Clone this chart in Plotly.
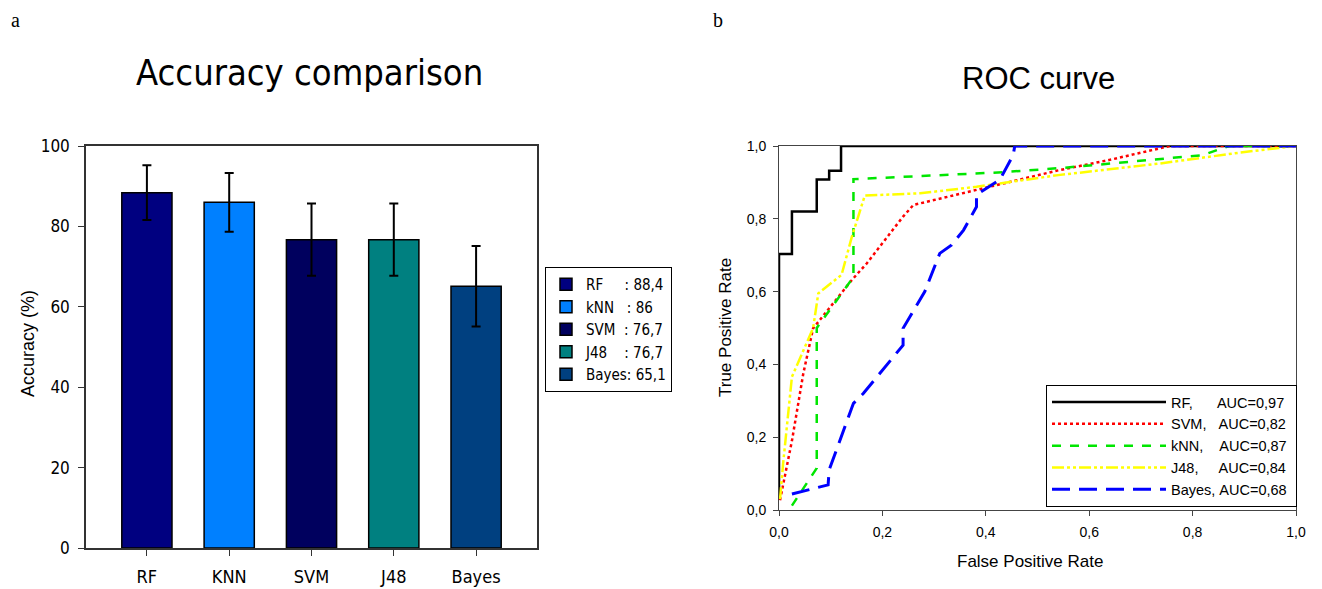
import plotly.graph_objects as go

# ---------------- data ----------------
categories = ["RF", "KNN", "SVM", "J48", "Bayes"]
legend_names = ["RF", "kNN", "SVM", "J48", "Bayes"]
accuracy = [88.4, 86, 76.7, 76.7, 65.1]
acc_err = [6.8, 7.3, 9.0, 9.0, 10.0]
bar_colors = ["#000080", "#0080FF", "#00005E", "#008080", "#004080"]
legend_pad = [5, 3, 2, 4, 0]

rf_fpr = [0, 0, 0.025, 0.025, 0.073, 0.073, 0.097, 0.097, 0.12, 0.12, 1.0]
rf_tpr = [0.03, 0.703, 0.703, 0.82, 0.82, 0.908, 0.908, 0.932, 0.932, 1.0, 1.0]

svm_fpr = [0.002, 0.025, 0.047, 0.066, 0.141, 0.17, 0.205, 0.24, 0.26, 0.382, 0.54, 0.64, 0.756, 1.0]
svm_tpr = [0.027, 0.19, 0.375, 0.499, 0.632, 0.678, 0.742, 0.806, 0.838, 0.879, 0.933, 0.962, 1.0, 1.0]

knn_fpr = [0.025, 0.073, 0.073, 0.141, 0.144, 0.144, 0.433, 0.55, 0.82, 0.87, 1.0]
knn_tpr = [0.012, 0.115, 0.50, 0.632, 0.64, 0.909, 0.928, 0.94, 0.975, 1.0, 1.0]

j48_fpr = [0.002, 0.008, 0.025, 0.066, 0.076, 0.121, 0.141, 0.166, 0.273, 0.382, 0.54, 0.737, 0.892, 1.0]
j48_tpr = [0.03, 0.128, 0.366, 0.50, 0.595, 0.646, 0.751, 0.864, 0.87, 0.888, 0.92, 0.952, 0.982, 1.0]

bayes_fpr = [0.025, 0.095, 0.097, 0.144, 0.163, 0.195, 0.24, 0.24, 0.282, 0.311, 0.334, 0.357,
             0.382, 0.382, 0.427, 0.453, 0.456, 1.0]
bayes_tpr = [0.044, 0.069, 0.11, 0.293, 0.32, 0.375, 0.453, 0.499, 0.60, 0.705, 0.728, 0.769,
             0.833, 0.866, 0.907, 0.975, 1.0, 1.0]

roc_names = ["RF,", "SVM,", "kNN,", "J48,", "Bayes,"]
roc_auc = ["0,97", "0,82", "0,87", "0,84", "0,68"]
roc_pad = [6, 3, 4, 5, 1]

NARROW = "DejaVu Sans Condensed, Liberation Sans Narrow, Arial Narrow, sans-serif"
SANS = "Liberation Sans, Arial, sans-serif"
SERIF = "Liberation Serif, Times New Roman, serif"
NB = "\u00a0"

fig = go.Figure()

# ---------------- bar chart ----------------
for i, cat in enumerate(categories):
    label = f"{legend_names[i]}{NB * legend_pad[i]}:{NB}{str(accuracy[i]).replace('.', ',')}"
    fig.add_trace(go.Bar(
        x=[cat], y=[accuracy[i]], name=label,
        marker=dict(color=bar_colors[i], line=dict(color="black", width=1.5)),
        width=0.61,
        error_y=dict(type="data", array=[acc_err[i]], color="black", thickness=2, width=4.5),
        xaxis="x", yaxis="y", legend="legend",
    ))

# ---------------- ROC ----------------
roc_data = [(rf_fpr, rf_tpr), (svm_fpr, svm_tpr), (knn_fpr, knn_tpr), (j48_fpr, j48_tpr), (bayes_fpr, bayes_tpr)]
roc_lines = [
    dict(color="black", width=2.5, dash="solid"),
    dict(color="#FF0000", width=2.5, dash="dot"),
    dict(color="#00E600", width=2.5, dash="dash"),
    dict(color="#FFFF00", width=2.5, dash="12px,3px,3px,3px,3px,3px"),
    dict(color="#0000FF", width=3, dash="18px,9px"),
]
for i, (fx, ty) in enumerate(roc_data):
    fig.add_trace(go.Scatter(
        x=fx, y=ty, mode="lines", line=roc_lines[i],
        name=f"{roc_names[i]}{NB * roc_pad[i]}AUC={roc_auc[i]}{NB}",
        xaxis="x2", yaxis="y2", legend="legend2", cliponaxis=False,
    ))

W, H = 1322, 589
def px(x): return x / W
def py(y): return 1 - y / H

def ann(text, x, y, size, family, angle=0, xanchor="center", yanchor="middle"):
    return dict(text=text, x=px(x), y=py(y), xref="paper", yref="paper", showarrow=False,
                textangle=angle, xanchor=xanchor, yanchor=yanchor,
                font=dict(family=family, size=size, color="black"))

fig.update_layout(
    width=W, height=H,
    margin=dict(l=0, r=0, t=0, b=0, autoexpand=False),
    paper_bgcolor="white", plot_bgcolor="white",
    separators=",.",
    barmode="overlay",
    showlegend=True,
    font=dict(family=SANS, color="black"),
    xaxis=dict(domain=[px(86), px(537)], range=[-0.74, 4.74], type="category", automargin=False,
               showline=True, linecolor="#333", linewidth=1.5, mirror=True,
               ticks="outside", ticklen=6, tickcolor="#333", showgrid=False, zeroline=False,
               ticklabelstandoff=6,
               tickfont=dict(family=NARROW, size=18)),
    yaxis=dict(domain=[py(548), py(146)], range=[0, 100], tickvals=[0, 20, 40, 60, 80, 100],
               automargin=False,
               showline=True, linecolor="#333", linewidth=1.5, mirror=True,
               ticks="outside", ticklen=6, tickcolor="#333", showgrid=False, zeroline=False,
               ticklabelstandoff=5,
               tickfont=dict(family=NARROW, size=17)),
    xaxis2=dict(domain=[px(779), px(1296)], range=[0, 1], tickvals=[0, 0.2, 0.4, 0.6, 0.8, 1.0],
                tickformat=".1f", showline=True, linecolor="#444", linewidth=1, mirror=True,
                automargin=False, ticklabelstandoff=4,
                ticks="outside", ticklen=5, tickcolor="#444", showgrid=False, zeroline=False,
                tickfont=dict(family=SANS, size=14), anchor="y2"),
    yaxis2=dict(domain=[py(510), py(146)], range=[0, 1], tickvals=[0, 0.2, 0.4, 0.6, 0.8, 1.0],
                tickformat=".1f", showline=True, linecolor="#444", linewidth=1, mirror=True,
                automargin=False, ticklabelstandoff=4,
                ticks="outside", ticklen=5, tickcolor="#444", showgrid=False, zeroline=False,
                tickfont=dict(family=SANS, size=14), anchor="x2"),
    legend=dict(x=px(545), y=py(267), xanchor="left", yanchor="top",
                bordercolor="black", borderwidth=1, bgcolor="white",
                font=dict(family=NARROW, size=15), tracegroupgap=0,
                itemwidth=30),
    legend2=dict(x=px(1297), y=py(507), xanchor="right", yanchor="bottom",
                 bordercolor="black", borderwidth=1, bgcolor="white",
                 font=dict(family=SANS, size=14.5), tracegroupgap=0, itemwidth=114),
    annotations=[
        ann("Accuracy comparison", 309, 72, 36, NARROW),
        ann("ROC curve", 1038, 78, 31, SANS),
        ann("a", 15, 20, 20, SERIF),
        ann("b", 718, 20, 20, SERIF),
        ann("Accuracy (%)", 28, 344, 18, SANS, angle=-90),
        ann("True Positive Rate", 725, 328, 17, SANS, angle=-90),
        ann("False Positive Rate", 1030, 561, 17, SANS),
    ],
)

fig.write_html("out.html")
